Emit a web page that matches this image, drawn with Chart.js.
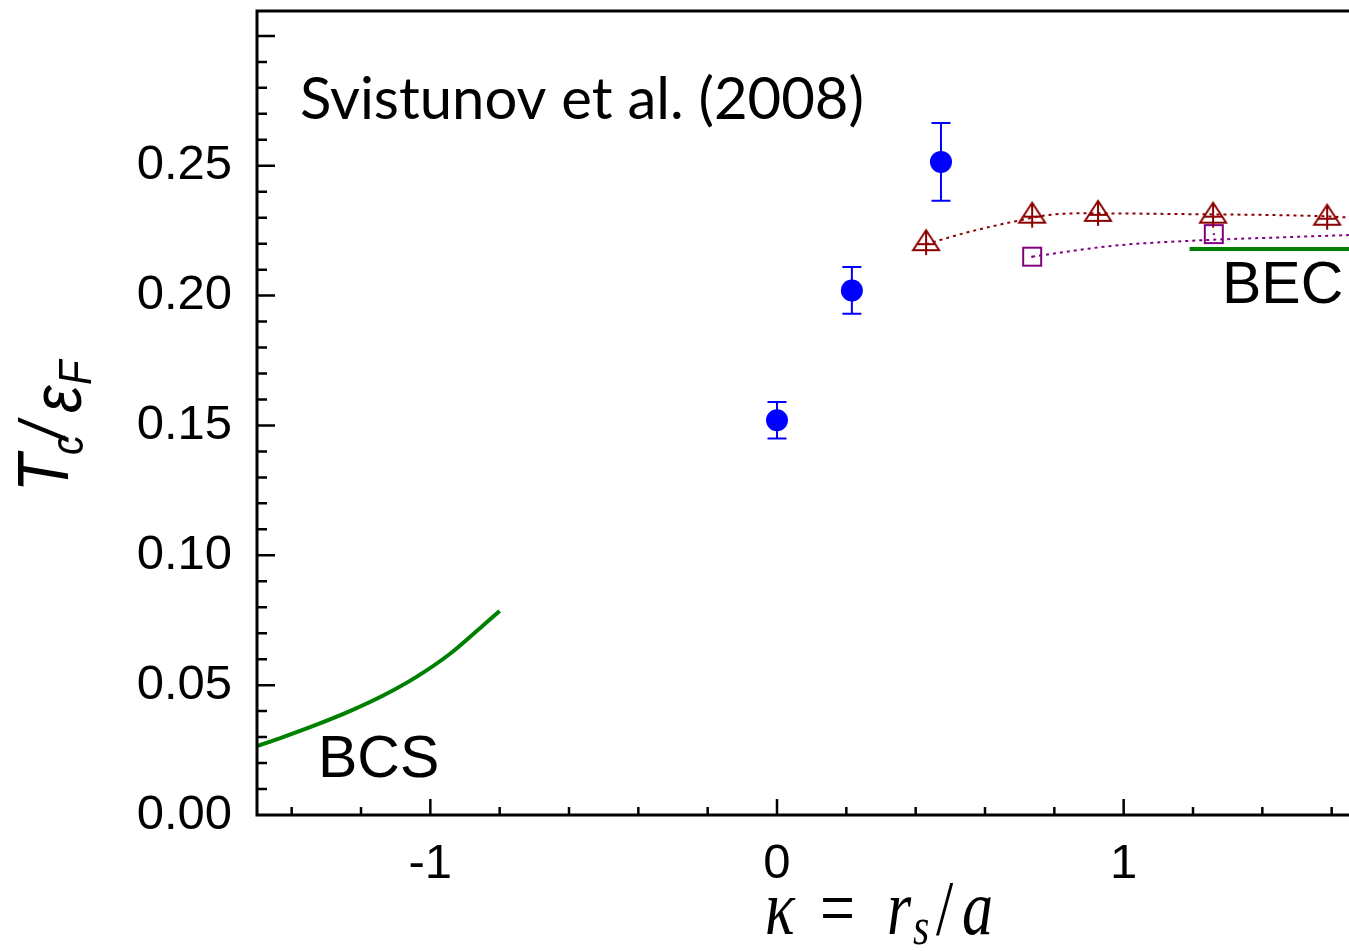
<!DOCTYPE html>
<html>
<head>
<meta charset="utf-8">
<script src="https://cdn.jsdelivr.net/npm/chart.js@4.4.1/dist/chart.umd.min.js"></script>
<style>
  html, body { margin: 0; padding: 0; background: #fff; }
</style>
</head>
<body>
<canvas id="tc" width="1349" height="951"></canvas>
<script>
// BCS asymptote (weak coupling side)
const bcsX = [-1.5, -1.425, -1.328, -1.232, -1.136, -1.04, -0.944, -0.848, -0.8];
const bcsY = [0.0265, 0.0300, 0.0348, 0.0400, 0.0460, 0.0532, 0.0620, 0.0730, 0.0786];
// BEC limit
const becX = [1.19, 1.65];
const becY = [0.218, 0.218];
// Svistunov et al. (2008) points with error bars
const mcX = [0.0, 0.216, 0.473];
const mcY = [0.152, 0.202, 0.2515];
const mcErr = [0.007, 0.009, 0.015];
// open triangles + dotted fit
const triX = [0.43, 0.736, 0.926, 1.258, 1.587];
const triY = [0.2202, 0.2308, 0.2315, 0.2308, 0.2300];
const triFitX = [0.43, 0.55, 0.701, 0.779, 0.895, 1.163, 1.547, 1.65];
const triFitY = [0.2198, 0.2244, 0.2290, 0.2310, 0.2317, 0.2314, 0.2307, 0.2301];
// open squares + dotted fit
const sqX = [0.736, 1.26];
const sqY = [0.215, 0.2237];
const sqFitX = [0.736, 0.97, 1.221, 1.423, 1.65];
const sqFitY = [0.215, 0.2192, 0.2213, 0.2223, 0.2233];

const toPts = (xs, ys) => xs.map((v, i) => ({ x: v, y: ys[i] }));

// marker glyphs: triangle with a plus, square with a dot
function triMarker() {
    const c = document.createElement('canvas');
    c.width = 30; c.height = 32;
    const g = c.getContext('2d');
    g.strokeStyle = '#8b0000';
    g.lineWidth = 2;
    g.beginPath();
    g.moveTo(15, 3); g.lineTo(28, 23); g.lineTo(2, 23); g.closePath();
    g.moveTo(15, 3); g.lineTo(15, 28);
    g.moveTo(5, 17); g.lineTo(25, 17);
    g.stroke();
    return c;
}
function sqMarker() {
    const c = document.createElement('canvas');
    c.width = 24; c.height = 24;
    const g = c.getContext('2d');
    g.strokeStyle = '#800080';
    g.fillStyle = '#800080';
    g.lineWidth = 2;
    g.strokeRect(3, 3, 18, 18);
    g.fillRect(11, 11, 2, 2);
    return c;
}

const decor = {
    id: 'decor',
    beforeDatasetsDraw(chart) {
        const { ctx, scales: { x, y } } = chart;
        ctx.save();
        ctx.strokeStyle = '#0000ff';
        ctx.lineWidth = 2;
        ctx.beginPath();
        mcX.forEach((v, i) => {
            const px = x.getPixelForValue(v);
            const top = y.getPixelForValue(mcY[i] + mcErr[i]);
            const bot = y.getPixelForValue(mcY[i] - mcErr[i]);
            ctx.moveTo(px, top); ctx.lineTo(px, bot);
            ctx.moveTo(px - 9.5, top); ctx.lineTo(px + 9.5, top);
            ctx.moveTo(px - 9.5, bot); ctx.lineTo(px + 9.5, bot);
        });
        ctx.stroke();
        ctx.restore();
    },
    afterDraw(chart) {
        const { ctx, chartArea: a, scales: { x, y } } = chart;
        ctx.save();
        // frame (left, top, bottom)
        ctx.strokeStyle = '#000';
        ctx.lineWidth = 3;
        ctx.beginPath();
        ctx.moveTo(a.right + 2, a.top); ctx.lineTo(a.left, a.top);
        ctx.lineTo(a.left, a.bottom); ctx.lineTo(a.right + 2, a.bottom);
        ctx.stroke();
        // inward ticks
        ctx.lineWidth = 2.5;
        ctx.beginPath();
        for (let i = 1; i <= 30; i++) {
            const py = y.getPixelForValue(i / 100);
            const len = i % 5 === 0 ? 18 : 10;
            ctx.moveTo(a.left, py); ctx.lineTo(a.left + len, py);
        }
        for (let i = -7; i <= 8; i++) {
            const px = x.getPixelForValue(i / 5);
            const len = i % 5 === 0 ? 16 : 8;
            ctx.moveTo(px, a.bottom); ctx.lineTo(px, a.bottom - len);
        }
        ctx.stroke();

        // labels inside the plot
        ctx.fillStyle = '#000';
        ctx.textBaseline = 'alphabetic';
        ctx.textAlign = 'left';
        ctx.font = '58px Lato';
        ctx.fillText('Svistunov et al. (2008)', 300, 119);
        ctx.font = '59px "Liberation Sans"';
        ctx.fillText('BCS', 318, 777);
        ctx.fillText('BEC', 1222, 303);

        // x axis title (figure text is stretched vertically)
        ctx.save();
        ctx.translate(0, 934);
        ctx.scale(1, 1.25);
        const it = 'italic 62px "Liberation Serif"';
        const rm = '62px "Liberation Serif"';
        [['κ', it, 765, 0], ['=', rm, 820, 0], ['r', it, 887, 0],
         ['s', 'italic 42px "Liberation Serif"', 913, 8], ['/', rm, 936, 0], ['a', it, 962, 0]]
            .forEach(p => { ctx.font = p[1]; ctx.fillText(p[0], p[2], p[3]); });
        ctx.restore();

        // y axis title
        ctx.save();
        ctx.translate(68, 492);
        ctx.rotate(-Math.PI / 2);
        ctx.scale(1, 1.15);
        [['T', 'italic 62px "Liberation Sans"', 0, 0],
         ['c', 'italic 40px "Liberation Sans"', 37, 13],
         ['/', 'italic 60px "Liberation Sans"', 53, 0],
         ['ε', 'italic 62px "Liberation Sans"', 79, 11],
         ['F', 'italic 40px "Liberation Sans"', 107, 20]]
            .forEach(p => { ctx.font = p[1]; ctx.fillText(p[0], p[2], p[3]); });
        ctx.restore();
        ctx.restore();
    }
};

new Chart(document.getElementById('tc'), {
    type: 'scatter',
    data: {
        datasets: [
            {
                label: 'MC',
                data: toPts(mcX, mcY),
                pointStyle: 'circle',
                pointRadius: 11,
                pointBackgroundColor: '#0000ff',
                pointBorderWidth: 0,
                order: 1
            },
            {
                label: 'triangles',
                data: toPts(triX, triY),
                pointStyle: triMarker(),
                order: 2
            },
            {
                label: 'squares',
                data: toPts(sqX, sqY),
                pointStyle: sqMarker(),
                order: 3
            },
            {
                label: 'tri fit',
                data: toPts(triFitX, triFitY),
                showLine: true,
                borderColor: '#8b0000',
                borderWidth: 2,
                borderDash: [3, 4],
                cubicInterpolationMode: 'monotone',
                pointRadius: 0,
                order: 4
            },
            {
                label: 'sq fit',
                data: toPts(sqFitX, sqFitY),
                showLine: true,
                borderColor: '#800080',
                borderWidth: 2,
                borderDash: [3, 4],
                cubicInterpolationMode: 'monotone',
                pointRadius: 0,
                order: 5
            },
            {
                label: 'BCS',
                data: toPts(bcsX, bcsY),
                showLine: true,
                borderColor: '#008000',
                borderWidth: 4,
                cubicInterpolationMode: 'monotone',
                pointRadius: 0,
                order: 6
            },
            {
                label: 'BEC',
                data: toPts(becX, becY),
                showLine: true,
                borderColor: '#008000',
                borderWidth: 4,
                pointRadius: 0,
                order: 7
            }
        ]
    },
    options: {
        responsive: false,
        animation: false,
        layout: { autoPadding: false, padding: { top: 11, right: 0, left: 0, bottom: 0 } },
        plugins: { legend: { display: false }, tooltip: { enabled: false } },
        scales: {
            x: {
                type: 'linear',
                min: -1.5,
                max: 1.65,
                grid: { display: false, drawTicks: false },
                border: { display: false },
                ticks: {
                    stepSize: 1,
                    includeBounds: false,
                    padding: 20,
                    color: '#000',
                    font: { family: 'Liberation Sans', size: 49 },
                    callback: v => String(v)
                },
                afterFit: s => { s.height = 136; s.paddingLeft = 0; s.paddingRight = 0; }
            },
            y: {
                type: 'linear',
                min: 0,
                max: 0.3096,
                grid: { display: false, drawTicks: false },
                border: { display: false },
                ticks: {
                    stepSize: 0.05,
                    includeBounds: false,
                    padding: 25,
                    color: '#000',
                    font: { family: 'Liberation Sans', size: 49 },
                    callback: v => (Math.abs(v - 0.3) < 1e-6 ? '' : v.toFixed(2))
                },
                afterFit: s => { s.width = 257; s.paddingTop = 0; s.paddingBottom = 0; }
            }
        }
    },
    plugins: [decor]
});
</script>
</body>
</html>
